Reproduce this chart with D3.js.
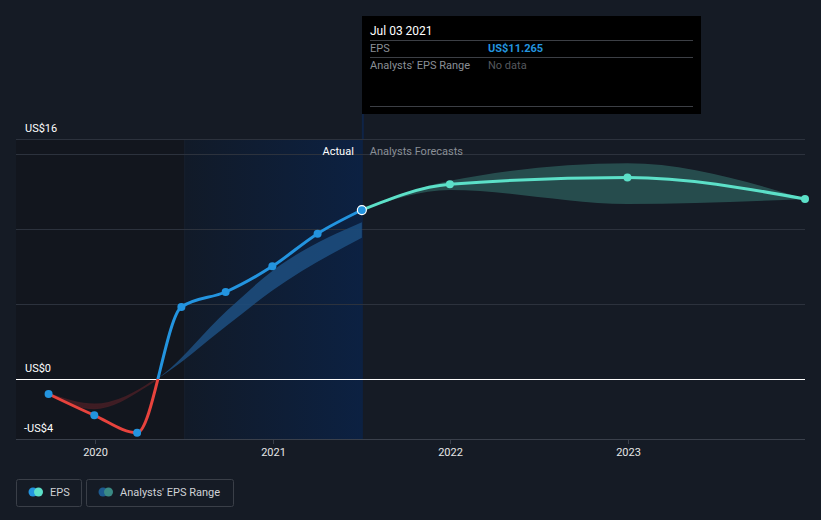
<!DOCTYPE html>
<html><head><meta charset="utf-8">
<script src="https://cdn.jsdelivr.net/npm/d3@7"></script>
<style>
html,body{margin:0;padding:0;background:#151b25;}
svg{display:block;font-family:Roboto,"Noto Sans",sans-serif;}
</style></head><body>
<svg id="c" width="821" height="520"></svg>
<script>
// ---- data ----
const epsDates = ["2019-09-28","2019-12-31","2020-03-28","2020-06-27","2020-09-26","2020-12-31","2021-04-03","2021-07-03"];
const epsValues = [-1.0, -2.42, -3.58, 4.8, 5.8, 7.51, 9.69, 11.265];
const fcDates = ["2021-07-03","2021-12-31","2022-12-31","2023-12-31"];
const fcValues = [11.265, 12.98, 13.44, 12.0];
const fcLow  = [11.265, 12.6, 11.67, 12.0];
const fcHigh = [11.265, 13.22, 14.38, 12.0];
const pastRangeDates = ["2019-09-28","2019-12-31","2020-05-08","2020-09-30","2020-12-31","2021-07-03"];
const pastRangeLow  = [-1.0, -1.95, 0, 3.6, 5.9, 9.42];
const pastRangeHigh = [-1.0, -1.7, 0, 4.6, 7.2, 10.45];
const yTickLabels = [{v:16,t:"US$16"},{v:0,t:"US$0"},{v:-4,t:"-US$4"}];
const gridValues = [16, 15, 10, 5];
const xTickYears = ["2020","2021","2022","2023"];
const hoverDate = "2021-07-03";
const regionStart = "2020-07-03";

const P = d3.timeParse("%Y-%m-%d");
const svg = d3.select("#c");
const W = 821, H = 520;
const x = d3.scaleTime().domain([P("2019-07-23"), P("2023-12-31")]).range([16, 805]);
const y = d3.scaleLinear().domain([-4, 16]).range([439, 139]);

const defs = svg.append("defs");
const g = defs.append("linearGradient").attr("id","hl").attr("x1","0").attr("x2","1").attr("y1","0").attr("y2","0");
g.append("stop").attr("offset","0%").attr("stop-color","#111a28");
g.append("stop").attr("offset","100%").attr("stop-color","#0c2142");

// background
svg.append("rect").attr("width",W).attr("height",H).attr("fill","#151b25");
// darker past region
svg.append("rect").attr("x",x.range()[0]).attr("y",139).attr("width",x(P(regionStart))-x.range()[0]).attr("height",300).attr("fill","#12161e");
// blue highlight region
const hx0 = x(P(regionStart)), hx1 = x(P(hoverDate));
svg.append("rect").attr("x",hx0).attr("y",139).attr("width",hx1-hx0+1).attr("height",300).attr("fill","url(#hl)");
svg.append("line").attr("x1",hx0+0.5).attr("x2",hx0+0.5).attr("y1",139).attr("y2",439).attr("stroke","#17202e");
// hover strip above plot
svg.append("rect").attr("x",hx1).attr("y",112).attr("width",2).attr("height",28).attr("fill","#0f2446");

// gridlines
svg.selectAll(".grid").data(gridValues).enter().append("line")
  .attr("x1",16).attr("x2",805).attr("y1",d=>Math.round(y(d))+0.5).attr("y2",d=>Math.round(y(d))+0.5)
  .attr("stroke","#2c323d").attr("stroke-width",1);
// bottom axis
svg.append("line").attr("x1",16).attr("x2",805).attr("y1",439.5).attr("y2",439.5).attr("stroke","#3a404b");
const xa = svg.append("g");
xTickYears.forEach(yr=>{
  const px = Math.round(x(P(yr+"-01-01")))+0.5;
  xa.append("line").attr("x1",px).attr("x2",px).attr("y1",439).attr("y2",444).attr("stroke","#3a404b");
  xa.append("text").attr("x",px).attr("y",456).attr("text-anchor","middle").attr("fill","#e6e6e6").attr("font-size",11).text(yr);
});

// clip paths for positive/negative
defs.append("clipPath").attr("id","pos").append("rect").attr("x",0).attr("y",0).attr("width",W).attr("height",y(0));
defs.append("clipPath").attr("id","neg").append("rect").attr("x",0).attr("y",y(0)).attr("width",W).attr("height",H-y(0));

// past range band
const pr = pastRangeDates.map((d,i)=>({d:P(d),lo:pastRangeLow[i],hi:pastRangeHigh[i]}));
const area = d3.area().x(d=>x(d.d)).y0(d=>y(d.lo)).y1(d=>y(d.hi)).curve(d3.curveMonotoneX);
svg.append("path").datum(pr).attr("d",area).attr("fill","#1d4f80").attr("opacity",0.85).attr("clip-path","url(#pos)");
svg.append("path").datum(pr).attr("d",area).attr("fill","#3f1d24").attr("stroke","#3f1d24").attr("stroke-width",2).attr("clip-path","url(#neg)");

// forecast range band
const fr = fcDates.map((d,i)=>({d:P(d),lo:fcLow[i],hi:fcHigh[i]}));
svg.append("path").datum(fr).attr("d",area).attr("fill","#5ce0c8").attr("opacity",0.25);

// zero line
svg.append("line").attr("x1",16).attr("x2",805).attr("y1",Math.round(y(0))+0.5).attr("y2",Math.round(y(0))+0.5).attr("stroke","#ffffff").attr("stroke-width",1);

// EPS line
const eps = epsDates.map((d,i)=>({d:P(d),v:epsValues[i]}));
const line = d3.line().x(d=>x(d.d)).y(d=>y(d.v)).curve(d3.curveMonotoneX);
svg.append("path").datum(eps).attr("d",line).attr("fill","none").attr("stroke","#2394df").attr("stroke-width",3).attr("clip-path","url(#pos)");
svg.append("path").datum(eps).attr("d",line).attr("fill","none").attr("stroke","#e8433d").attr("stroke-width",3).attr("clip-path","url(#neg)");

// forecast line
const fc = fcDates.map((d,i)=>({d:P(d),v:fcValues[i]}));
svg.append("path").datum(fc).attr("d",line).attr("fill","none").attr("stroke","#5ce0c8").attr("stroke-width",3);
svg.selectAll(".fcp").data(fc.slice(1)).enter().append("circle")
  .attr("cx",d=>x(d.d)).attr("cy",d=>y(d.v)).attr("r",4).attr("fill","#5ce0c8");

// EPS points
svg.selectAll(".ep").data(eps.slice(0,-1)).enter().append("circle")
  .attr("cx",d=>x(d.d)).attr("cy",d=>y(d.v)).attr("r",4).attr("fill","#2394df");
const last = eps[eps.length-1];
svg.append("circle").attr("cx",x(last.d)).attr("cy",y(last.v)).attr("r",4.5).attr("fill","#2394df").attr("stroke","#ffffff").attr("stroke-width",1.2);

// y labels
svg.selectAll(".yl").data(yTickLabels).enter().append("text")
  .attr("x",d=>d.v<0?24:25).attr("y",d=>y(d.v)-7).attr("fill","#ffffff").attr("font-size",11).text(d=>d.t);

// Actual / Analysts Forecasts
svg.append("text").attr("x",hx1-8).attr("y",155).attr("text-anchor","end").attr("fill","#ffffff").attr("font-size",11).text("Actual");
svg.append("text").attr("x",hx1+8).attr("y",155).attr("fill","#8a8f96").attr("font-size",11).text("Analysts Forecasts");

// tooltip
const tt = svg.append("g");
tt.append("rect").attr("x",362).attr("y",16).attr("width",339).attr("height",98).attr("fill","#000000");
tt.append("text").attr("x",370).attr("y",35).attr("fill","#ffffff").attr("font-size",12).text("Jul 03 2021");
[40.5,57.5,106.5].forEach(yy=>tt.append("line").attr("x1",370).attr("x2",693).attr("y1",yy).attr("y2",yy).attr("stroke","#3c3f45"));
tt.append("text").attr("x",370).attr("y",52).attr("fill","#8a8f96").attr("font-size",11).text("EPS");
tt.append("text").attr("x",488).attr("y",52).attr("fill","#2394df").attr("font-size",11).attr("font-weight","bold").text("US$11.265");
tt.append("text").attr("x",370).attr("y",69).attr("fill","#8a8f96").attr("font-size",11).text("Analysts' EPS Range");
tt.append("text").attr("x",488).attr("y",69).attr("fill","#55585e").attr("font-size",11).text("No data");

// legend
const lg = svg.append("g");
lg.append("rect").attr("x",16.5).attr("y",479.5).attr("width",65).attr("height",27).attr("rx",2).attr("fill","none").attr("stroke","#3a3f48");
lg.append("circle").attr("cx",33).attr("cy",492).attr("r",4.5).attr("fill","#2394df");
lg.append("circle").attr("cx",38.5).attr("cy",492).attr("r",4.5).attr("fill","#5ce0c8");
lg.append("text").attr("x",50).attr("y",496).attr("fill","#cfd2d6").attr("font-size",11).text("EPS");
lg.append("rect").attr("x",86.5).attr("y",479.5).attr("width",147).attr("height",27).attr("rx",2).attr("fill","none").attr("stroke","#3a3f48");
lg.append("circle").attr("cx",103).attr("cy",492).attr("r",4.5).attr("fill","#1d5a8f");
lg.append("circle").attr("cx",108.5).attr("cy",492).attr("r",4.5).attr("fill","#3a8a84");
lg.append("text").attr("x",120).attr("y",496).attr("fill","#cfd2d6").attr("font-size",11).text("Analysts' EPS Range");
</script>
</body></html>
